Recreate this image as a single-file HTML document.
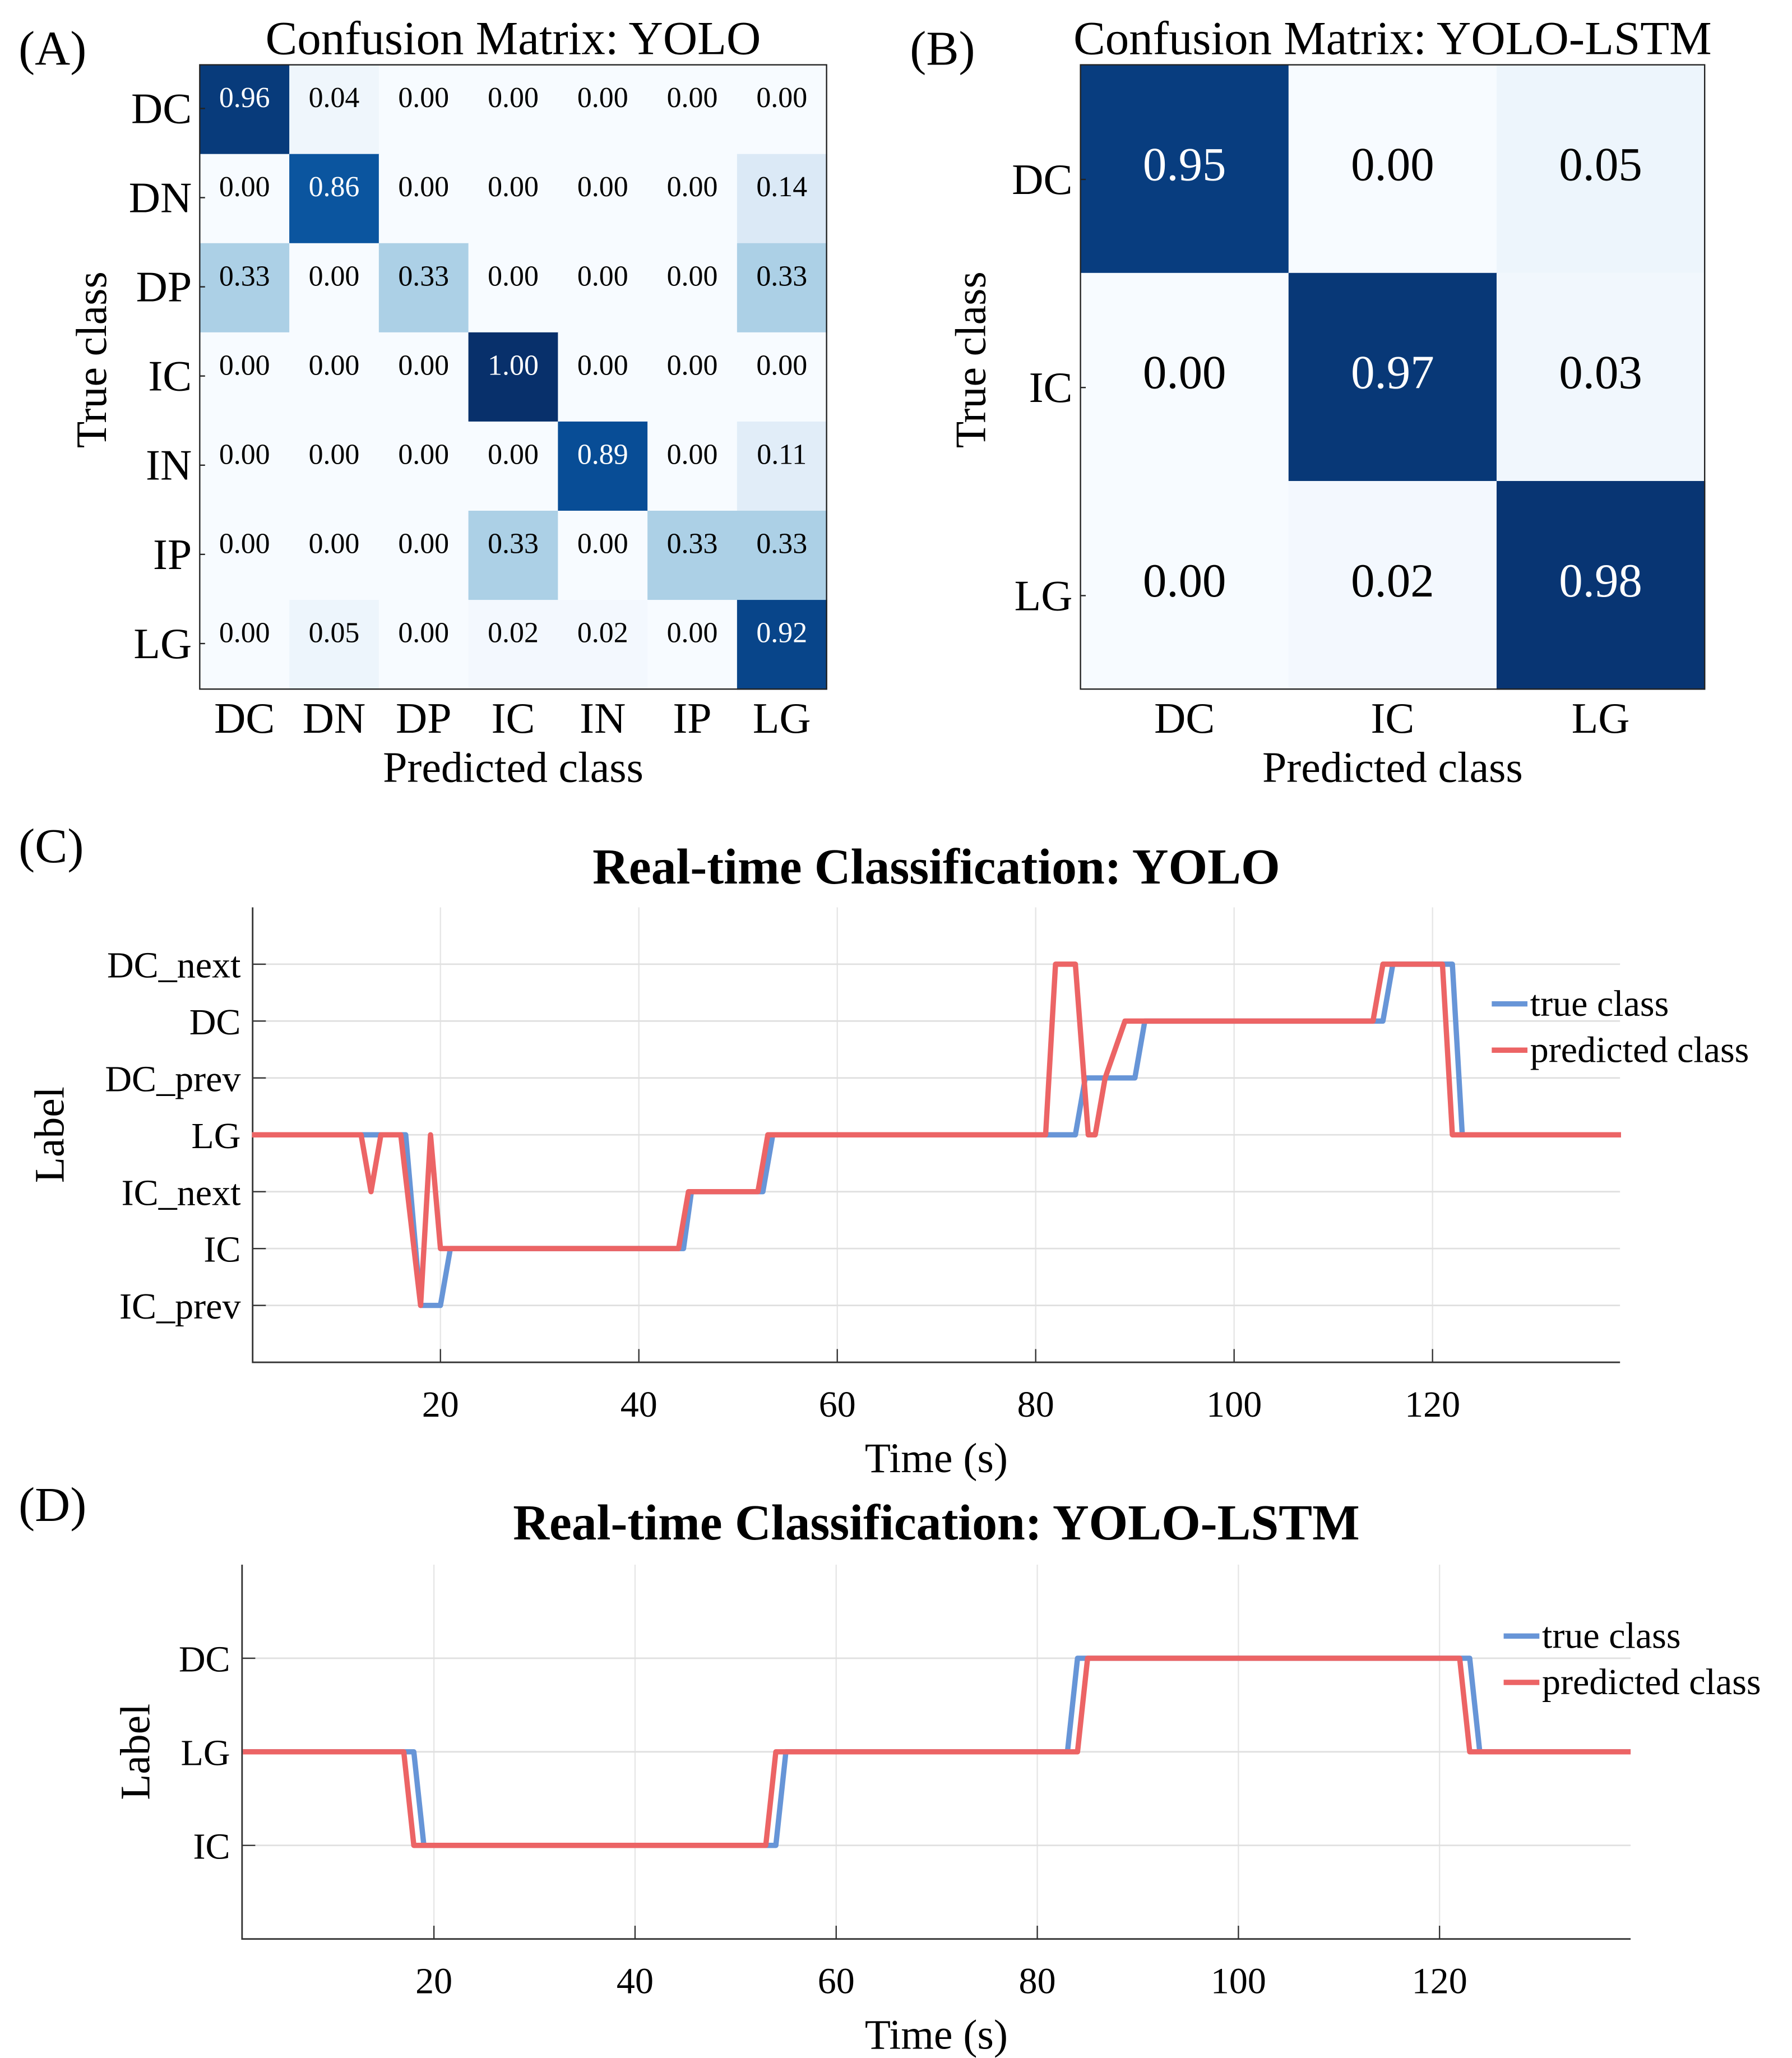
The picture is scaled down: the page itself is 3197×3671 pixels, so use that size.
<!DOCTYPE html>
<html><head><meta charset="utf-8"><style>
html,body{margin:0;padding:0;background:#fff}
svg{display:block}
text{font-family:"Liberation Serif",serif;fill:#000}
</style></head><body>
<svg id="fig" width="3197" height="3671" viewBox="0 0 1355 1556" xmlns="http://www.w3.org/2000/svg">
<rect width="1355" height="1556" fill="#fff"/>
<g id="pa"></g>
<g id="pb"></g>
<g id="pc"></g>
<g id="pd"></g>
</svg>
<script>
// ---- data ----
const classesA = ["DC","DN","DP","IC","IN","IP","LG"];
const matrixA = [
 [0.96,0.04,0.00,0.00,0.00,0.00,0.00],
 [0.00,0.86,0.00,0.00,0.00,0.00,0.14],
 [0.33,0.00,0.33,0.00,0.00,0.00,0.33],
 [0.00,0.00,0.00,1.00,0.00,0.00,0.00],
 [0.00,0.00,0.00,0.00,0.89,0.00,0.11],
 [0.00,0.00,0.00,0.33,0.00,0.33,0.33],
 [0.00,0.05,0.00,0.02,0.02,0.00,0.92]];
const classesB = ["DC","IC","LG"];
const matrixB = [[0.95,0.00,0.05],[0.00,0.97,0.03],[0.00,0.02,0.98]];

const labelsC = ["IC_prev","IC","IC_next","LG","DC_prev","DC","DC_next"];
const xTicksC = [20,40,60,80,100,120];
const trueTimesC = [1,16.5,18,20,21,44.5,45.3,52.5,53.5,84,85,90,91,115,116,122,123,139];
const trueValsC  = [4,4,1,1,2,2,3,3,4,4,5,5,6,6,7,7,4,4];
const predTimesC = [1,12,13,14,16,18,19,20,44,45,52,53,81,82,84,85.3,86,87,89,114,115,121,122,139];
const predValsC  = [4,4,3,4,4,1,4,2,2,3,3,4,4,7,7,4,4,5,6,6,7,7,4,4];

const labelsD = ["IC","LG","DC"];
const xTicksD = [20,40,60,80,100,120];
const trueTimesD = [1,18,19,54,55,83,84,123,124,139];
const trueValsD  = [2,2,1,1,2,2,3,3,2,2];
const predTimesD = [1,17,18,53,54,84,85,122,123,139];
const predValsD  = [2,2,1,1,2,2,3,3,2,2];

// ---- helpers ----
const NS="http://www.w3.org/2000/svg";
function mk(parent,tag,attrs,txt){const e=document.createElementNS(NS,tag);for(const k in attrs)e.setAttribute(k,attrs[k]);if(txt!==undefined)e.textContent=txt;parent.appendChild(e);return e;}
const blues=[[247,251,255],[222,235,247],[198,219,239],[158,202,225],[107,174,214],[66,146,198],[33,113,181],[8,81,156],[8,48,107]];
function blue(v){const p=Math.max(0,Math.min(1,v))*8;const i=Math.min(7,Math.floor(p));const f=p-i;const a=blues[i],b=blues[i+1];return `rgb(${a.map((c,k)=>Math.round(c+(b[k]-c)*f)).join(",")})`;}

function confusion(g,classes,m,x0,x1,y0,y1,fs,title,tx,panel,px,small){
  const n=classes.length,cw=(x1-x0)/n,ch=(y1-y0)/n;
  const t=mk(g,"text",{x:px,y:49,"font-size":37},panel);
  
  const tt=mk(g,"text",{x:(x0+x1)/2,y:41,"font-size":36,"text-anchor":"middle"},title);
  
  for(let r=0;r<n;r++)for(let c=0;c<n;c++){
    const v=m[r][c];
    const rc=mk(g,"rect",{x:x0+c*cw,y:y0+r*ch,width:cw+0.5,height:ch+0.5,fill:blue(v)});
    
    const vy=small? y0+r*ch+32 : y0+(r+0.5)*ch-4+fs*0.35;
    const tx2=mk(g,"text",{x:x0+(c+0.5)*cw,y:vy,"font-size":fs,"text-anchor":"middle"},v.toFixed(2));
    tx2.style.fill=v>0.5?"#fff":"#000";
    
  }
  mk(g,"rect",{x:x0,y:y0,width:x1-x0,height:y1-y0,fill:"none",stroke:"#222","stroke-width":1});
  for(let i=0;i<n;i++){
    const cy=small? y0+i*ch+33 : y0+(i+0.5)*ch+8;
    const yl=mk(g,"text",{x:x0-6,y:cy+11,"font-size":33,"text-anchor":"end"},classes[i]);
    
    mk(g,"line",{x1:x0,x2:x0+4,y1:cy,y2:cy,stroke:"#222"});
    const xl=mk(g,"text",{x:x0+(i+0.5)*cw,y:y1+33,"font-size":33,"text-anchor":"middle"},classes[i]);
    
  }
  const ya=mk(g,"text",{transform:`translate(${tx},272) rotate(-90)`,"font-size":33,"text-anchor":"middle"},"True class");
  
  const xa=mk(g,"text",{x:(x0+x1)/2,y:591,"font-size":33,"text-anchor":"middle"},"Predicted class");
  
}
confusion(document.getElementById('pa'),classesA,matrixA,151,625,49,521,22,"Confusion Matrix: YOLO",80,"(A)",14,true);
confusion(document.getElementById('pb'),classesB,matrixB,817,1289,49,521,36,"Confusion Matrix: YOLO-LSTM",745,"(B)",688,false);

function lineChart(g,o){
  const X=t=>o.l+(t-o.tmin)/(o.tmax-o.tmin)*(o.r-o.l);
  const Y=v=>o.b-(v/o.vmax)*(o.b-o.t);
  const p=mk(g,"text",{x:14,y:o.py,"font-size":37},o.panel);
  
  const ti=mk(g,"text",{x:708,y:o.ty,"font-size":38,"font-weight":"bold","text-anchor":"middle"},o.title);
  
  o.xt.forEach(v=>{
    const gl=mk(g,"line",{x1:X(v),x2:X(v),y1:o.t,y2:o.b,stroke:"#e6e6e6","stroke-width":1});
    
    mk(g,"line",{x1:X(v),x2:X(v),y1:o.b,y2:o.b-10,stroke:"#333"});
    const tl=mk(g,"text",{x:X(v),y:o.b+41,"font-size":28,"text-anchor":"middle"},String(v));
    
  });
  o.labels.forEach((lab,i)=>{
    const v=i+1;
    const gl=mk(g,"line",{x1:o.l,x2:o.r,y1:Y(v),y2:Y(v),stroke:"#e0e0e0","stroke-width":1.2});
    
    mk(g,"line",{x1:o.l,x2:o.l+10,y1:Y(v),y2:Y(v),stroke:"#333"});
    const tl=mk(g,"text",{x:o.l-9,y:Y(v)+10,"font-size":28,"text-anchor":"end"},lab);
    
  });
  mk(g,"polyline",{points:`${o.l},${o.t} ${o.l},${o.b} ${o.r},${o.b}`,fill:"none",stroke:"#333","stroke-width":1.2});
  const tp=o.trueT.map((t,i)=>X(t)+","+Y(o.trueV[i])).join(" ");
  const pl1=mk(g,"polyline",{points:tp,fill:"none",stroke:"#6795d7","stroke-width":4,"stroke-linejoin":"round"});
  
  const pp=o.predT.map((t,i)=>X(t)+","+Y(o.predV[i])).join(" ");
  const pl2=mk(g,"polyline",{points:pp,fill:"none",stroke:"#ec6465","stroke-width":4,"stroke-linejoin":"round"});
  
  [["true class","#6795d7",o.ly],["predicted class","#ec6465",o.ly+35]].forEach(([n,c,y])=>{
    const ll=mk(g,"line",{x1:o.lx,x2:o.lx+27,y1:y,y2:y,stroke:c,"stroke-width":4});
    
    const lt=mk(g,"text",{x:o.lx+29,y:y+9,"font-size":28},n);
    
  });
  const ya=mk(g,"text",{transform:`translate(${o.yax},${(o.t+o.b)/2}) rotate(-90)`,"font-size":32,"text-anchor":"middle"},"Label");
  
  const xa=mk(g,"text",{x:708,y:o.b+83,"font-size":32,"text-anchor":"middle"},"Time (s)");
  
}
lineChart(document.getElementById('pc'),{l:191,r:1225,t:686,b:1030,tmin:1.07,tmax:138.9,vmax:8,labels:labelsC,xt:xTicksC,
  trueT:trueTimesC,trueV:trueValsC,predT:predTimesC,predV:predValsC,panel:"(C)",py:652,title:"Real-time Classification: YOLO",ty:668,lx:1128,ly:759,yax:48});
lineChart(document.getElementById('pd'),{l:183,r:1233,t:1183,b:1466,tmin:0.92,tmax:139,vmax:4,labels:labelsD,xt:xTicksD,
  trueT:trueTimesD,trueV:trueValsD,predT:predTimesD,predV:predValsD,panel:"(D)",py:1150,title:"Real-time Classification: YOLO-LSTM",ty:1164,lx:1137,ly:1237,yax:113});
</script>
</body></html>
